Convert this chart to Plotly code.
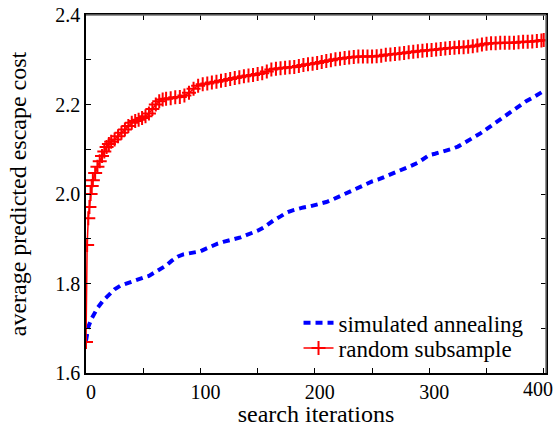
import plotly.graph_objects as go

# simulated annealing (blue dashed)
sa_iter = [0, 2, 5, 10, 15, 20, 25, 30, 35, 40, 45, 50, 55, 60, 65, 70, 75, 80, 85, 90,
           95, 100, 105, 110, 115, 120, 125, 130, 135, 140, 145, 150, 155, 160, 165, 170,
           175, 180, 185, 190, 195, 200, 205, 210, 215, 220, 225, 230, 235, 240, 245, 250,
           255, 260, 265, 270, 275, 280, 285, 290, 295, 300, 305, 310, 315, 320, 325, 330,
           335, 340, 345, 350, 355, 360, 365, 370, 375, 380, 385, 390, 395, 400]
sa_cost = [1.672, 1.703, 1.722, 1.745, 1.762, 1.775, 1.787, 1.795, 1.800, 1.805, 1.809,
           1.813, 1.817, 1.825, 1.832, 1.840, 1.851, 1.860, 1.865, 1.868, 1.869, 1.872,
           1.878, 1.884, 1.889, 1.893, 1.896, 1.899, 1.903, 1.908, 1.912, 1.918, 1.925,
           1.935, 1.943, 1.950, 1.958, 1.963, 1.967, 1.970, 1.972, 1.975, 1.978, 1.982,
           1.987, 1.993, 2.000, 2.006, 2.012, 2.018, 2.024, 2.028, 2.032, 2.037, 2.043,
           2.049, 2.054, 2.059, 2.064, 2.070, 2.079, 2.087, 2.090, 2.093, 2.097, 2.101,
           2.106, 2.113, 2.121, 2.128, 2.136, 2.145, 2.154, 2.163, 2.173, 2.183, 2.191,
           2.200, 2.208, 2.215, 2.222, 2.230]

# random subsample (red + markers)
rs_iter = [0, 1, 2, 3, 4, 5, 6, 8, 10, 12, 14, 16, 18, 20, 22, 25, 28, 31, 34, 37, 40,
           43, 46, 49, 52, 55, 58, 61, 64, 67, 70, 74, 78, 82, 86, 90, 94, 98, 102, 106,
           110, 114, 118, 122, 126, 130, 134, 138, 142, 146, 150, 154, 158, 162, 166, 170,
           174, 178, 182, 186, 190, 194, 198, 202, 206, 210, 214, 218, 222, 226, 230, 234,
           238, 242, 246, 250, 254, 258, 262, 266, 270, 274, 278, 282, 286, 290, 294, 298,
           302, 306, 310, 314, 318, 322, 326, 330, 334, 338, 342, 346, 350, 354, 358, 362,
           366, 370, 374, 378, 382, 386, 390, 394, 398, 400]
rs_cost = [1.669, 1.886, 1.946, 1.971, 2.000, 2.018, 2.031, 2.047, 2.061, 2.073, 2.085,
           2.095, 2.105, 2.112, 2.117, 2.122, 2.129, 2.137, 2.144, 2.152, 2.159, 2.163,
           2.166, 2.170, 2.174, 2.180, 2.190, 2.200, 2.207, 2.211, 2.213, 2.214, 2.216,
           2.217, 2.220, 2.226, 2.235, 2.242, 2.245, 2.247, 2.249, 2.251, 2.253, 2.255,
           2.257, 2.259, 2.261, 2.263, 2.265, 2.266, 2.268, 2.270, 2.274, 2.278, 2.280,
           2.281, 2.282, 2.283, 2.284, 2.286, 2.288, 2.290, 2.291, 2.293, 2.295, 2.297,
           2.299, 2.301, 2.302, 2.304, 2.305, 2.306, 2.307, 2.307, 2.307, 2.307, 2.308,
           2.309, 2.311, 2.312, 2.313, 2.314, 2.315, 2.317, 2.318, 2.319, 2.320, 2.321,
           2.322, 2.323, 2.324, 2.325, 2.326, 2.327, 2.328, 2.328, 2.329, 2.330, 2.332,
           2.334, 2.336, 2.337, 2.337, 2.338, 2.338, 2.338, 2.338, 2.339, 2.340, 2.340,
           2.341, 2.342, 2.343, 2.344]

x_ticks = [0, 100, 200, 300, 400]
x_tick_text = ["\u20070", "\u2007100", "\u2007200", "\u2007300", ""]
last_x_label = "400"
y_ticks = [1.6, 1.8, 2.0, 2.2, 2.4]
y_tick_text = ["1.6", "1.8", "2.0", "2.2", "2.4"]

FONT = "'Liberation Serif', 'Times New Roman', Times, serif"

fig = go.Figure()
fig.add_trace(go.Scatter(
    x=sa_iter, y=sa_cost, mode="lines", name="simulated annealing", legend="legend",
    line=dict(color="#0000ff", width=4, dash="7px,5px"),
))
fig.add_trace(go.Scatter(
    x=rs_iter, y=rs_cost, mode="lines+markers", name="random subsample", legend="legend2",
    line=dict(color="#ff0000", width=1.5),
    marker=dict(symbol="cross-thin", size=10, line=dict(color="#ff0000", width=2)),
))

xr = [0, 402]
yr = [1.6, 2.4]
common = dict(ticks="inside", ticklen=5, tickwidth=1, showgrid=False, zeroline=False,
              showline=True, linewidth=1.5, mirror="ticks", automargin=False,
              linecolor="black", tickcolor="black")

leg_common = dict(xanchor="left", yanchor="middle", bgcolor="rgba(0,0,0,0)",
                  font=dict(size=23, family=FONT))

fig.update_layout(
    width=558, height=427,
    margin=dict(l=86, r=12, t=15, b=54),
    paper_bgcolor="white", plot_bgcolor="white",
    font=dict(family=FONT, size=20, color="black"),
    showlegend=True,
    legend=dict(x=0.462, y=0.14, **leg_common),
    legend2=dict(x=0.462, y=0.07, **leg_common),
    xaxis=dict(range=xr, tickvals=x_ticks, ticktext=x_tick_text,
               minor=dict(dtick=50, ticks="inside", ticklen=5, tickcolor="black"),
               title=dict(text="search iterations", standoff=4),
               **common),
    yaxis=dict(range=yr, tickvals=y_ticks, ticktext=y_tick_text,
               minor=dict(dtick=0.1, ticks="inside", ticklen=5, tickcolor="black"),
               title=dict(text="average predicted escape cost", standoff=22),
               **common),
    annotations=[
        dict(x=x_ticks[-1], xref="x", y=0, yref="paper", text=last_x_label,
             showarrow=False, xanchor="center", yanchor="top", xshift=-6, yshift=-3,
             font=dict(size=20, family=FONT, color="black")),
    ],
    shapes=[
        dict(type="line", xref="paper", yref="paper", x0=0, x1=1, y0=1, y1=1,
             line=dict(color="#707070", width=1.5)),
        dict(type="line", xref="paper", yref="paper", x0=1, x1=1, y0=0, y1=1,
             line=dict(color="#707070", width=1.5)),
    ],
)

fig.write_html("out.html")
